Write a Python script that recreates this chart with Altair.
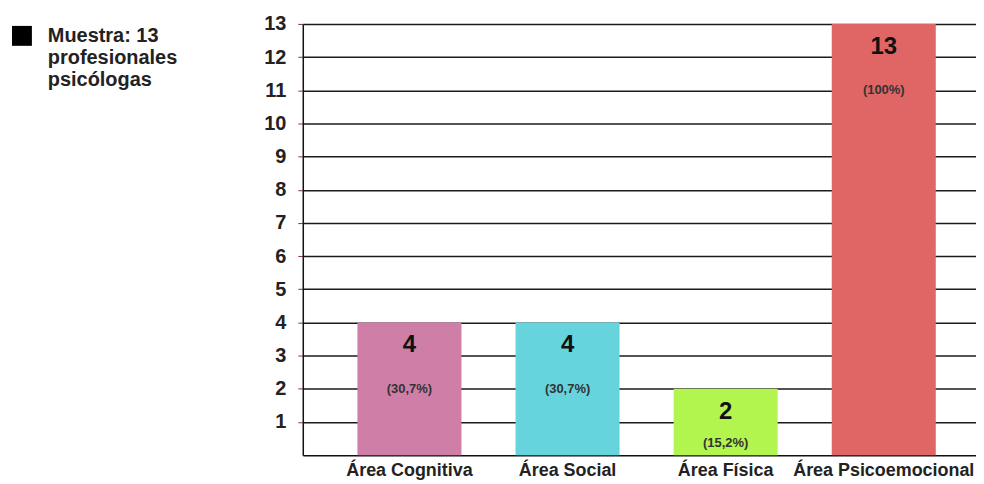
import altair as alt
import pandas as pd

categorias = ["Área Cognitiva", "Área Social", "Área Física", "Área Psicoemocional"]
valores = [4, 4, 2, 13]
porcentajes = ["(30,7%)", "(30,7%)", "(15,2%)", "(100%)"]
colores = ["#cf7fa7", "#66d4dc", "#b3f54f", "#e06666"]
serie = "Muestra: 13 profesionales psicólogas"
serie_lineas = ["Muestra: 13", "profesionales", "psicólogas"]
y_ticks = list(range(1, 14))

df = pd.DataFrame({"cat": categorias, "val": valores, "pct": porcentajes, "serie": serie})

FONT = "Liberation Sans"

x = alt.X(
    "cat:N", sort=categorias,
    scale=alt.Scale(paddingInner=0.342, paddingOuter=0.30, align=0.576, round=False),
    axis=alt.Axis(title=None, labelAngle=0, domain=True, domainColor="#111", domainWidth=1.5,
                  ticks=False, labelFontSize=18, labelFontWeight="bold", labelColor="#222",
                  labelFont=FONT, labelPadding=6, labelLimit=0, labelOverlap=False),
)
y_scale = alt.Scale(domain=[0, 13], nice=False)
y_axis = alt.Axis(title=None, values=y_ticks, grid=True, gridColor="#1a1a1a", gridWidth=1.5,
                  domainColor="#111", domainWidth=1.5, tickColor="#8b2a55", tickSize=5,
                  labelFontSize=20, labelFontWeight="bold", labelColor="#222", labelFont=FONT,
                  labelPadding=12, labelOverlap=False)
y = alt.Y("val:Q", scale=y_scale, axis=y_axis)

base = alt.Chart(df)

bars = base.mark_bar().encode(
    x=x, y=y,
    color=alt.Color("cat:N", sort=categorias,
                    scale=alt.Scale(domain=categorias, range=colores), legend=None),
)

label_expr = "[" + ", ".join("'" + s + "'" for s in serie_lineas) + "]"

legend_layer = base.mark_square(opacity=0).encode(
    x=x, y=y,
    fill=alt.Fill("serie:N", scale=alt.Scale(range=["#000000"]),
                  legend=alt.Legend(
                      title=None, orient="none", legendX=-292, legendY=2,
                      symbolType="square", symbolSize=400, symbolOpacity=1,
                      symbolFillColor="#000000", symbolStrokeWidth=0,
                      labelExpr=label_expr,
                      labelFontSize=20, labelFontWeight="bold", labelColor="#222",
                      labelFont=FONT, labelOffset=16, labelBaseline="middle",
                      labelLimit=300, padding=0)),
)

val_text = base.mark_text(fontSize=24, fontWeight="bold", color="#111", baseline="middle",
                          dy=23, font=FONT).encode(x=x, y=y, text="val:Q")

pct_text = base.transform_calculate(
    ypct="max(datum.val - 2.0, 0.36)"
).mark_text(fontSize=13, fontWeight="bold", color="#333", baseline="middle", font=FONT).encode(
    x=x, y=alt.Y("ypct:Q", scale=y_scale, axis=y_axis), text="pct:N")

chart = alt.layer(bars, legend_layer, val_text, pct_text).resolve_scale(
    color="independent", fill="independent"
).properties(
    width=676, height=433,
    autosize=alt.AutoSizeParams(type="none"),
    padding={"left": 296, "top": 15, "right": 0, "bottom": 28},
).configure_view(stroke=None)

chart.save("out.html", embed_options={"renderer": "svg", "actions": False})
